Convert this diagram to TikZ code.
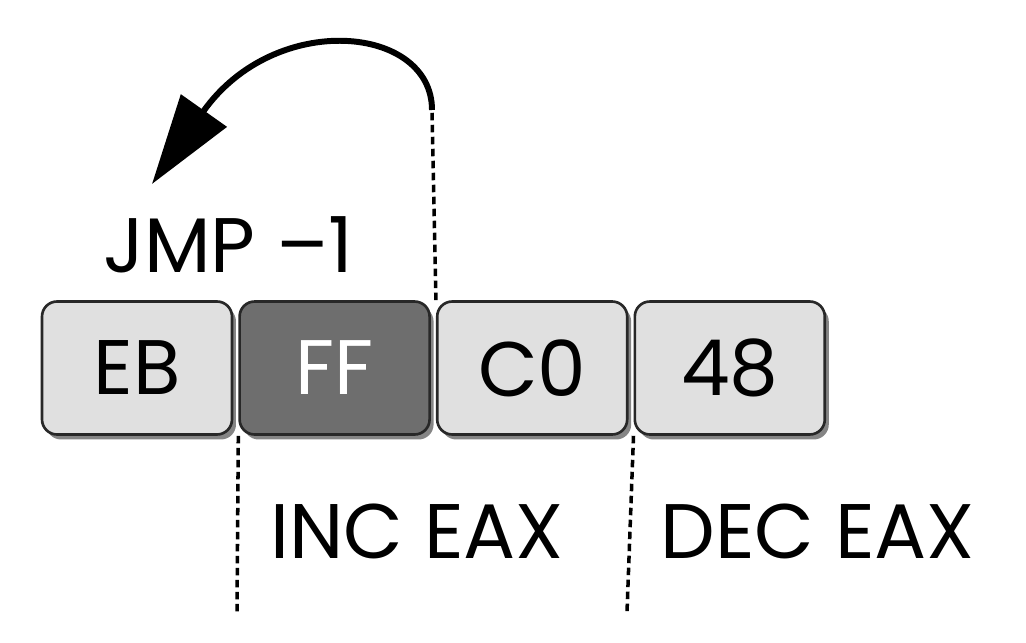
\documentclass[tikz,border=0pt]{standalone}
\usepackage{fontspec}
\setmainfont{Poppins}
\usepackage{xcolor}
\usetikzlibrary{positioning,arrows.meta,shadows}
\definecolor{bytefill}{RGB}{224,224,224}
\definecolor{bytedark}{RGB}{110,110,110}
\definecolor{byteline}{RGB}{40,40,40}

\begin{document}
\begin{tikzpicture}[
  x=0.02cm, y=-0.02cm,
  every node/.style={font=\fontsize{44}{48}\selectfont},
  byte/.style={draw=byteline, line width=1.5pt, fill=bytefill, rounded corners=0.3cm,
               minimum width=3.8cm, minimum height=2.66cm, inner sep=0pt,
               drop shadow={shadow xshift=0.08cm, shadow yshift=-0.1cm, fill=black!60, opacity=0.8}},
  hot/.style={byte, fill=bytedark, text=white},
  guide/.style={line width=2pt, dash pattern=on 0.15cm off 0.09cm},
  label/.style={anchor=base west, inner sep=0pt}
]
  \useasboundingbox (0,0) rectangle (1026,642);

  % Bytes
  \node[byte] (eb) at (137,368) {EB};
  \node[hot, right=0.1cm of eb] (ff) {FF};
  \node[byte, right=0.1cm of ff] (c0) {C0};
  \node[byte, right=0.1cm of c0] (b48) {48};

  % Labels
  \node[label] (jmp) at (103,272) {JMP --1};
  \node[label] (inc) at (270,558) {INC EAX};
  \node[label] (dec) at (660,558) {DEC EAX};

  % Guide ends
  \coordinate (jmpsrc) at (432,110);
  \coordinate (jmptip) at (152,184);
  \coordinate (incend) at (237,612);
  \coordinate (decend) at (627,612);

  % Guides
  \draw[guide] (c0.north west) -- (jmpsrc);
  \draw[guide] (ff.south west) -- (incend);
  \draw[guide] (b48.south west) -- (decend);

  % Jump
  \draw[line width=3.4pt, -{Triangle[length=1.8cm, width=1.1cm]}]
    (jmpsrc) .. controls (432,25) and (275,10) .. (jmptip);
\end{tikzpicture}
\end{document}
